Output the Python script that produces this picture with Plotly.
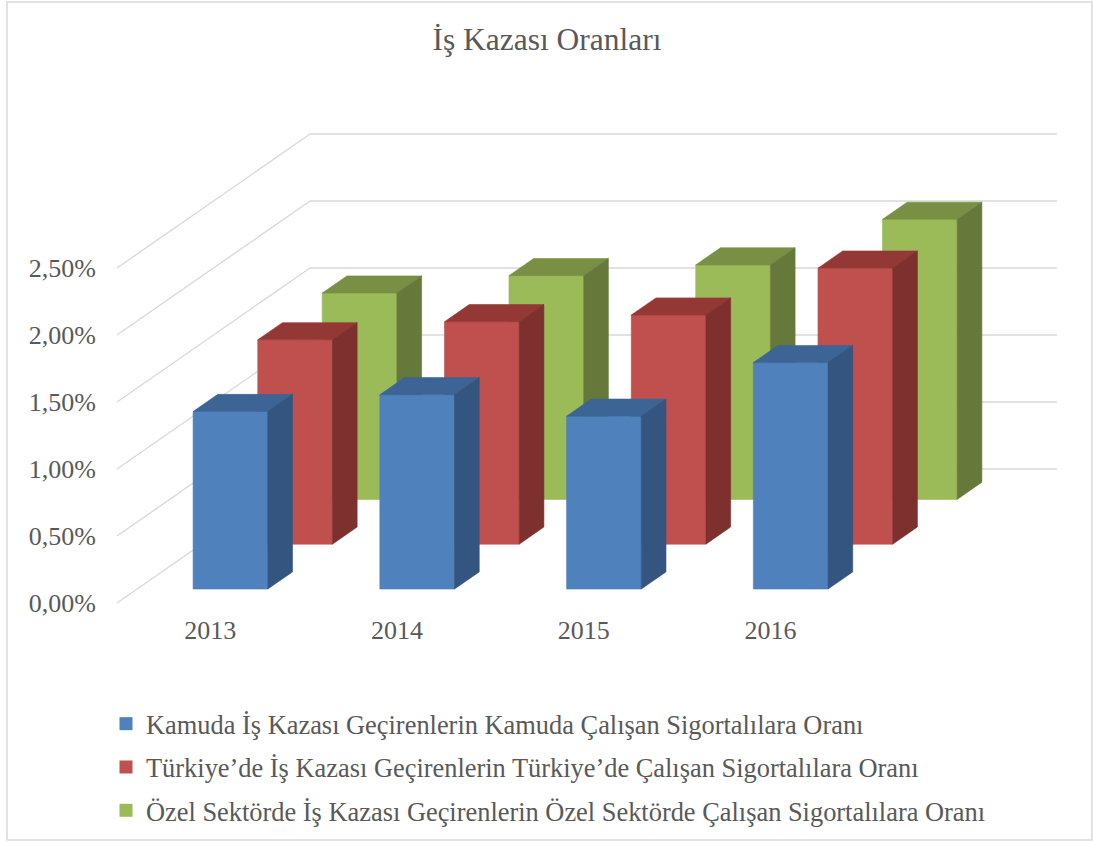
import plotly.graph_objects as go

# ---------------- data ----------------
years = ["2013", "2014", "2015", "2016"]
series_names = [
    "Kamuda İş Kazası Geçirenlerin Kamuda Çalışan Sigortalılara Oranı",
    "Türkiye’de İş Kazası Geçirenlerin Türkiye’de Çalışan Sigortalılara Oranı",
    "Özel Sektörde İş Kazası Geçirenlerin Özel Sektörde Çalışan Sigortalılara Oranı",
]
kamu = [0.01325, 0.0145, 0.0129, 0.0169]
turkiye = [0.01525, 0.0166, 0.0171, 0.0206]
ozel = [0.0154, 0.0167, 0.0175, 0.0209]
series_values = [kamu, turkiye, ozel]
y_ticks = [0.0, 0.005, 0.01, 0.015, 0.02, 0.025]

# ---------------- styles ----------------
front_colors = ["#4F81BD", "#C0504D", "#9BBB59"]
top_colors = ["#3C6494", "#943836", "#788F44"]
side_colors = ["#345580", "#7D302E", "#66793A"]
grid_color = "#D9D9D9"
text_color = "#595959"
font_family = "Liberation Serif, Times New Roman, serif"

# oblique projection of the depth axis (d in 0..1)
DX = 1.0335   # category units per full depth
DY = 0.01     # value units per full depth
row_depth = [0.104, 0.439, 0.773]
bar_depth = 0.128
half_w = 0.2


def proj(x, y, d):
    return x + d * DX, y + d * DY


def poly(points):
    xs, ys = [], []
    for (x, y, d) in points:
        px, py = proj(x, y, d)
        xs.append(px)
        ys.append(py)
    xs.append(xs[0])
    ys.append(ys[0])
    return xs, ys


fig = go.Figure()

# legend entries
for k, name in enumerate(series_names):
    fig.add_trace(go.Scatter(
        x=[None], y=[None], mode="markers", name=name,
        legendgroup=f"s{k}",
        marker=dict(symbol="square", size=13, color=front_colors[k]),
    ))

# walls: grid lines on left wall and back wall
n_cat = len(years)
x_left, x_right = -0.5, n_cat - 0.5
gx, gy = [], []
for v in y_ticks:
    for seg in ([(x_left, v, 0.0), (x_left, v, 1.0)],
                [(x_left, v, 1.0), (x_right, v, 1.0)]):
        for p in seg:
            px, py = proj(*p)
            gx.append(px)
            gy.append(py)
        gx.append(None)
        gy.append(None)
fig.add_trace(go.Scatter(x=gx, y=gy, mode="lines", showlegend=False,
                         hoverinfo="skip",
                         line=dict(color=grid_color, width=1.4)))

# bars, drawn back row to front row
for k in reversed(range(len(series_values))):
    vals = series_values[k]
    d0 = row_depth[k]
    d1 = d0 + bar_depth
    faces = {"front": ([], []), "top": ([], []), "side": ([], [])}
    for i, v in enumerate(vals):
        xl, xr = i - half_w, i + half_w
        shapes = {
            "front": [(xl, 0, d0), (xr, 0, d0), (xr, v, d0), (xl, v, d0)],
            "top": [(xl, v, d0), (xr, v, d0), (xr, v, d1), (xl, v, d1)],
            "side": [(xr, 0, d0), (xr, 0, d1), (xr, v, d1), (xr, v, d0)],
        }
        for key, pts in shapes.items():
            xs, ys = poly(pts)
            faces[key][0].extend(xs + [None])
            faces[key][1].extend(ys + [None])
    for key, col in (("front", front_colors[k]), ("top", top_colors[k]),
                     ("side", side_colors[k])):
        fig.add_trace(go.Scatter(
            x=faces[key][0], y=faces[key][1], mode="lines", fill="toself",
            fillcolor=col, line=dict(color=col, width=0.6),
            legendgroup=f"s{k}", showlegend=False,
            name=series_names[k], hoverinfo="skip",
        ))

# ---------------- layout ----------------
W, H = 1093, 843
ml, mb = 100, 231
fig.update_layout(
    width=W, height=H, autosize=False,
    margin=dict(l=ml, r=0, t=0, b=mb, pad=0),
    paper_bgcolor="white", plot_bgcolor="white",
    separators=",.",
    title=dict(text="İş Kazası Oranları", x=547 / W, xref="container",
               xanchor="center", y=1 - 39 / H, yref="container",
               yanchor="middle",
               font=dict(family=font_family, size=31.5, color=text_color)),
    xaxis=dict(range=[-0.591, 4.7263], tickvals=list(range(n_cat)),
               ticktext=years, showgrid=False, zeroline=False,
               showline=False, ticks="", automargin=False,
               tickfont=dict(family=font_family, size=26, color=text_color)),
    yaxis=dict(range=[-0.000672, 0.045], tickvals=y_ticks,
               tickformat=".2%", showgrid=False, zeroline=False,
               showline=False, ticks="", automargin=False,
               ticklabelstandoff=3,
               tickfont=dict(family=font_family, size=26, color=text_color)),
    showlegend=True,
    legend=dict(x=(106 - ml) / (W - ml), xanchor="left",
                y=(H - mb - 700) / (H - mb), yanchor="top",
                traceorder="grouped", tracegroupgap=6,
                bgcolor="rgba(0,0,0,0)",
                font=dict(family=font_family, size=26.4, color=text_color)),
)

# chart border
fig.add_shape(type="rect", xref="paper", yref="paper",
              x0=(7 - ml) / (W - ml), x1=(1092 - ml) / (W - ml),
              y0=(H - mb - 840) / (H - mb), y1=(H - mb - 2) / (H - mb),
              line=dict(color="#D9D9D9", width=1.5), layer="below")

fig.write_html("out.html",
               config={"displayModeBar": False},
               post_script="document.body.style.margin='0';"
                           "document.body.style.overflow='hidden';")
